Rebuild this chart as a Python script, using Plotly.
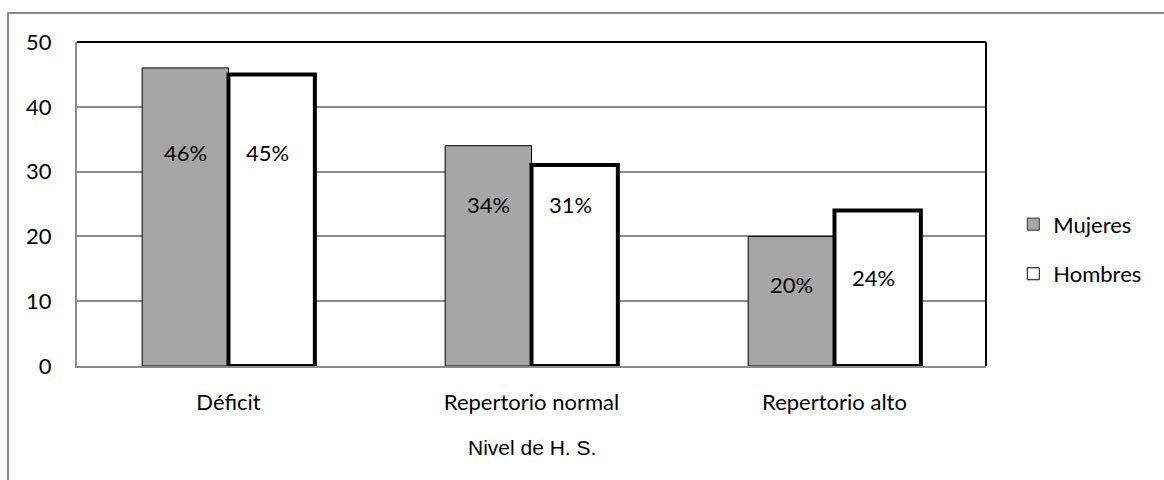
import plotly.graph_objects as go

categories = ["Déficit", "Repertorio normal", "Repertorio alto"]
mujeres = [46, 34, 20]
hombres = [45, 31, 24]
mujeres_labels = ["46%", "34%", "20%"]
hombres_labels = ["45%", "31%", "24%"]
y_ticks = [0, 10, 20, 30, 40, 50]

# height (in axis units) at which each percentage label sits inside its bar
mujeres_label_y = [33.0, 25.0, 12.6]
hombres_label_y = [33.0, 24.9, 13.7]

FONT = "Lato, 'Noto Sans', sans-serif"
GRID = "#8c8c8c"

fig = go.Figure()
fig.add_trace(go.Bar(
    x=categories, y=mujeres, name="Mujeres", showlegend=False, offsetgroup="m",
    marker=dict(color="#a6a6a6", line=dict(color="black", width=1)),
))
fig.add_trace(go.Bar(
    x=categories, y=hombres, name="Hombres", showlegend=False, offsetgroup="h",
    marker=dict(color="white", line=dict(color="black", width=4)),
))
# legend entries with thin swatch outlines (share the offset groups of the real bars)
fig.add_trace(go.Bar(
    x=[None], y=[None], name="Mujeres", legendgroup="m", offsetgroup="m",
    marker=dict(color="#a6a6a6", line=dict(color="#333333", width=1)),
))
fig.add_trace(go.Bar(
    x=[None], y=[None], name="Hombres", legendgroup="h", offsetgroup="h",
    marker=dict(color="white", line=dict(color="black", width=1)),
))

for cat, lab, ly in zip(categories, mujeres_labels, mujeres_label_y):
    fig.add_annotation(x=cat, y=ly, text=lab, showarrow=False, xshift=-43,
                       font=dict(family=FONT, size=22, color="black"))
for cat, lab, ly in zip(categories, hombres_labels, hombres_label_y):
    fig.add_annotation(x=cat, y=ly, text=lab, showarrow=False, xshift=39,
                       font=dict(family=FONT, size=22, color="black"))

# axis title under the categories
fig.add_annotation(xref="paper", yref="paper", x=0.5, y=-0.25, yanchor="middle",
                   text="Nivel de H. S.", showarrow=False,
                   font=dict(family="'Liberation Sans', Arial, sans-serif", size=21, color="black"))

# black frame on top and right of the plot area
fig.add_shape(type="line", xref="paper", yref="paper", x0=0, x1=1, y0=1, y1=1,
              line=dict(color="black", width=2))
fig.add_shape(type="line", xref="paper", yref="paper", x0=1, x1=1, y0=0, y1=1,
              line=dict(color="black", width=2))
# outer chart border
fig.add_shape(type="rect", xref="paper", yref="paper",
              x0=-69 / 909, x1=1.3, y0=(366 - 13) / 324, y1=-0.5,
              line=dict(color="#8a8a8a", width=2), fillcolor="rgba(0,0,0,0)", layer="below")

fig.update_layout(
    width=1164, height=480,
    margin=dict(l=77, r=178, t=42, b=114),
    paper_bgcolor="white", plot_bgcolor="white",
    barmode="group", bargap=0.43, bargroupgap=0,
    font=dict(family=FONT, size=22, color="black"),
    showlegend=True,
    legend=dict(x=1.03, y=0.36, xanchor="left", yanchor="middle",
                tracegroupgap=18, font=dict(family=FONT, size=22),
                itemwidth=30, bgcolor="rgba(0,0,0,0)"),
    xaxis=dict(showline=True, linecolor=GRID, linewidth=2, showgrid=False,
               ticks="", ticklabelstandoff=16, tickfont=dict(size=22)),
    yaxis=dict(range=[0, 50], tickvals=y_ticks, showline=True, linecolor=GRID, linewidth=2,
               showgrid=True, gridcolor=GRID, gridwidth=1.5, zeroline=False,
               ticks="", ticklabelstandoff=19, tickfont=dict(size=22)),
)

fig.write_html("out.html")
